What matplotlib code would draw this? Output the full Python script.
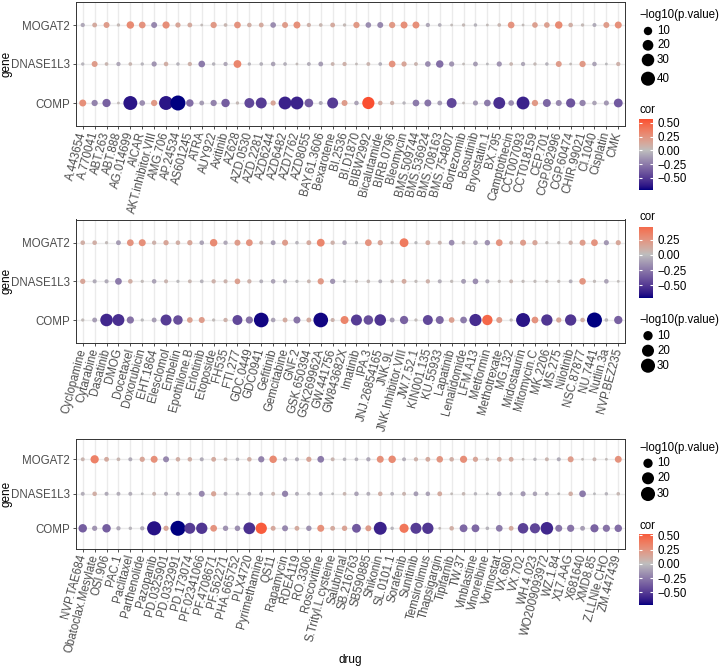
# drug_gene_dotplot.py

##########
# Import #
##########
import numpy as np
import matplotlib
matplotlib.use('Agg')
import matplotlib.pyplot as plt
from matplotlib.colors import ListedColormap, to_rgb

plt.rcParams['font.family'] = ['Liberation Sans', 'DejaVu Sans']

########
# Data #
########
genes = ['MOGAT2', 'DNASE1L3', 'COMP']

p1_drugs = ['A.443654', 'A.770041', 'ABT.263', 'ABT.888', 'AG.014699', 'AICAR', 'AKT.inhibitor.VIII', 'AMG.706',
            'AP.24534', 'AS601245', 'ATRA', 'AUY922', 'Axitinib', 'AZ628', 'AZD.0530', 'AZD.2281', 'AZD6244',
            'AZD6482', 'AZD7762', 'AZD8055', 'BAY.61.3606', 'Bexarotene', 'BI.2536', 'BI.D1870', 'BIBW2992',
            'Bicalutamide', 'BIRB.0796', 'Bleomycin', 'BMS.509744', 'BMS.536924', 'BMS.708163', 'BMS.754807',
            'Bortezomib', 'Bosutinib', 'Bryostatin.1', 'BX.795', 'Camptothecin', 'CCT007093', 'CCT018159',
            'CEP.701', 'CGP.082996', 'CGP.60474', 'CHIR.99021', 'CI.1040', 'Cisplatin', 'CMK']
p1_cor_mogat2 = [-0.08, 0.12, 0.2, 0.03, 0.3, 0.25, -0.2, 0.28, 0.15, 0.12, 0.02, 0.22, 0.05, 0.25, 0.1, 0.12, -0.18, 0.2, 0.27, 0.08, 0.05, 0.12, 0.03,
                 0.22, -0.18, -0.2, 0.22, 0.27, 0.27, -0.08, -0.05, 0.02, 0.03, -0.04, 0.02, 0.05, 0.25, 0.02, 0.18, 0.18, 0.3, 0.1, 0.03, -0.07, 0.2, 0.27]
p1_logp_mogat2 = [0.8, 1.4, 3.3, 0.25, 7.0, 4.9, 3.3, 6.2, 2.0, 1.4, 0.15, 3.9, 0.4, 4.9, 1.1, 1.4, 2.7, 3.3, 5.6, 0.8, 0.4, 1.4, 0.25,
                  3.9, 2.7, 3.3, 3.9, 5.6, 5.6, 0.8, 0.4, 0.15, 0.25, 0.3, 0.15, 0.4, 4.9, 0.15, 2.7, 2.7, 7.0, 1.1, 0.25, 0.6, 3.3, 5.6]
p1_cor_dnase1l3 = [-0.03, 0.2, 0.05, -0.08, 0.05, -0.03, -0.15, 0.1, -0.04, 0.08, -0.25, -0.04, -0.08, 0.32, -0.03, -0.05, -0.1, -0.05, 0.02, -0.06, -0.12, 0.06, 0.08,
                   0.02, 0.06, -0.05, 0.25, 0.15, 0.06, -0.18, -0.3, -0.15, 0.02, -0.12, -0.02, -0.15, 0.05, -0.08, 0.03, -0.04, 0.2, 0.02, 0.22, -0.1, -0.02, 0.08]
p1_logp_dnase1l3 = [0.25, 3.3, 0.4, 0.8, 0.4, 0.25, 2.0, 1.1, 0.3, 0.8, 4.9, 0.3, 0.8, 8.0, 0.25, 0.4, 1.1, 0.4, 0.15, 0.5, 1.4, 0.5, 0.8,
                    0.15, 0.5, 0.4, 4.9, 2.0, 0.5, 2.7, 7.0, 2.0, 0.15, 1.4, 0.15, 2.0, 0.4, 0.8, 0.25, 0.3, 3.3, 0.15, 3.9, 1.1, 0.15, 0.8]
p1_cor_comp = [0.27, -0.22, -0.35, 0.02, -0.65, -0.18, 0.22, -0.65, -0.72, -0.3, -0.12, -0.22, -0.36, 0.03, -0.45, -0.5, 0.15, -0.6, -0.6, -0.37, -0.07, -0.5, 0.2,
               -0.1, 0.57, 0.1, 0.08, -0.03, -0.25, -0.27, -0.12, -0.45, 0.02, -0.14, -0.25, -0.55, -0.18, -0.6, 0.22, -0.33, -0.2, -0.4, -0.22, -0.1, -0.14, -0.38]
p1_logp_comp = [5.6, 3.9, 9.5, 0.15, 39, 2.7, 3.9, 39, 47, 7.0, 1.4, 3.9, 10, 0.25, 16, 21, 2.0, 32, 32, 11, 0.6, 21, 3.3,
                1.1, 28, 1.1, 0.8, 0.25, 4.9, 5.6, 1.4, 16, 0.15, 1.8, 4.9, 26, 2.7, 32, 3.9, 8.5, 3.3, 13, 3.9, 1.1, 1.8, 11.5]

p2_drugs = ['Cyclopamine', 'Cytarabine', 'Dasatinib', 'DMOG', 'Docetaxel', 'Doxorubicin', 'EHT.1864', 'Elesclomol',
            'Embelin', 'Epothilone.B', 'Erlotinib', 'Etoposide', 'FH535', 'FTI.277', 'GDC.0449', 'GDC0941',
            'Gefitinib', 'Gemcitabine', 'GNF.2', 'GSK.650394', 'GSK269962A', 'GW.441756', 'GW843682X', 'Imatinib',
            'IPA.3', 'JNJ.26854165', 'JNK.9L', 'JNK.Inhibitor.VIII', 'JW.7.52.1', 'KIN001.135', 'KU.55933',
            'Lapatinib', 'Lenalidomide', 'LFM.A13', 'Metformin', 'Methotrexate', 'MG.132', 'Midostaurin',
            'Mitomycin.C', 'MK.2206', 'MS.275', 'Nilotinib', 'NSC.87877', 'NU.7441', 'Nutlin.3a', 'NVP.BEZ235']
p2_cor_mogat2 = [0.1, 0.1, 0.02, -0.12, 0.25, 0.27, 0.08, 0.15, 0.1, 0.15, -0.1, 0.3, -0.08, 0.2, 0.25, 0.06, -0.12, 0.2, -0.03, 0.12, 0.32, 0.08, -0.1,
                 -0.02, 0.25, 0.15, 0.02, 0.38, -0.02, 0.12, 0.06, -0.18, 0.04, -0.1, -0.16, 0.25, 0.06, 0.2, 0.15, 0.02, 0.02, 0.08, 0.2, 0.25, -0.14, 0.14]
p2_logp_mogat2 = [0.8, 0.8, 0.1, 1.05, 3.7, 4.2, 0.6, 1.5, 0.8, 1.5, 0.8, 5.2, 0.6, 2.5, 3.7, 0.4, 1.05, 2.5, 0.2, 1.05, 6.0, 0.6, 0.8,
                  0.1, 3.7, 1.5, 0.1, 8.6, 0.1, 1.05, 0.4, 2.0, 0.25, 0.8, 1.7, 3.7, 0.4, 2.5, 1.5, 0.1, 0.1, 0.6, 2.5, 3.7, 1.35, 1.35]
p2_cor_dnase1l3 = [0.15, -0.07, -0.07, -0.25, 0.1, 0.02, -0.1, 0.06, -0.02, 0.05, -0.04, 0.08, 0.07, 0.18, 0.08, -0.05, -0.1, -0.07, -0.02, 0.05, 0.22, -0.15, -0.02,
                   0.02, 0.03, -0.05, 0.04, 0.12, 0.02, 0.08, -0.06, 0.02, -0.12, -0.18, -0.07, 0.02, 0.05, 0.02, 0.02, 0.02, 0.02, -0.05, 0.24, 0.02, -0.1, 0.01]
p2_logp_dnase1l3 = [1.5, 0.45, 0.45, 3.7, 0.8, 0.1, 0.8, 0.4, 0.1, 0.3, 0.25, 0.6, 0.45, 2.0, 0.6, 0.3, 0.8, 0.45, 0.1, 0.3, 2.9, 1.5, 0.1,
                    0.1, 0.2, 0.3, 0.25, 1.05, 0.1, 0.6, 0.4, 0.1, 1.05, 2.0, 0.45, 0.1, 0.3, 0.1, 0.1, 0.1, 0.1, 0.3, 3.4, 0.1, 0.8, 0.05]
p2_cor_comp = [0.02, -0.12, -0.58, -0.55, -0.28, -0.02, -0.12, -0.5, -0.42, 0.18, 0.2, 0.02, 0.08, -0.45, -0.28, -0.7, -0.1, 0.12, -0.27, 0.12, -0.7, 0.07, 0.33,
               -0.5, -0.42, -0.53, -0.12, -0.35, 0.02, -0.45, -0.33, 0.18, -0.25, -0.56, 0.47, 0.2, 0.02, -0.65, 0.25, -0.52, 0.15, -0.52, 0.1, -0.72, -0.03, -0.35]
p2_logp_comp = [0.1, 1.05, 22.5, 19.5, 4.6, 0.1, 1.05, 15.8, 10.5, 2.0, 2.5, 0.1, 0.6, 12, 4.6, 33, 0.8, 1.05, 4.2, 1.05, 33, 0.45, 6.4,
                15.8, 10.5, 18, 1.05, 7.1, 0.1, 12, 6.4, 2.0, 3.7, 20.5, 13.5, 2.5, 0.1, 29, 3.7, 17, 1.5, 17, 0.8, 35, 0.2, 7.1]

p3_drugs = ['NVP.TAE684', 'Obatoclax.Mesylate', 'OSI.906', 'PAC.1', 'Paclitaxel', 'Parthenolide', 'Pazopanib',
            'PD.0325901', 'PD.0332991', 'PD.173074', 'PF.02341066', 'PF.4708671', 'PF.562271', 'PHA.665752',
            'PLX4720', 'Pyrimethamine', 'QS11', 'Rapamycin', 'RDEA119', 'RO.3306', 'Roscovitine',
            'S.Trityl.L.cysteine', 'Salubrinal', 'SB.216763', 'SB590885', 'Shikonin', 'SL.0101.1', 'Sorafenib',
            'Sunitinib', 'Temsirolimus', 'Thapsigargin', 'Tipifarnib', 'TW.37', 'Vinblastine', 'Vinorelbine',
            'Vorinostat', 'VX.680', 'VX.702', 'WH.4.023', 'WO2009093972', 'WZ.1.84', 'X17.AAG', 'X681640',
            'XMD8.85', 'Z.LLNle.CHO', 'ZM.447439']
p3_cor_mogat2 = [0.06, 0.35, 0.12, 0.05, -0.07, 0.15, 0.27, -0.2, 0.1, 0.1, -0.07, 0.12, 0.05, -0.04, 0.1, -0.22, 0.3, -0.08, -0.07, 0.15, -0.25, 0.06, -0.04,
                 -0.05, -0.08, 0.27, 0.3, -0.06, 0.08, 0.12, 0.24, 0.1, 0.28, 0.15, 0.04, 0.12, 0.12, 0.02, -0.03, 0.06, -0.07, 0.2, 0.02, 0.06, 0.02, 0.26]
p3_logp_mogat2 = [0.4, 7.1, 1.05, 0.3, 0.45, 1.5, 4.2, 2.5, 0.8, 0.8, 0.45, 1.05, 0.3, 0.25, 0.8, 2.9, 5.2, 0.6, 0.45, 1.5, 3.7, 0.4, 0.25,
                  0.3, 0.6, 4.2, 5.2, 0.4, 0.6, 1.05, 3.4, 0.8, 4.6, 1.5, 0.25, 1.05, 1.05, 0.1, 0.2, 0.4, 0.45, 2.5, 0.1, 0.4, 0.1, 4.0]
p3_cor_dnase1l3 = [-0.06, 0.1, -0.07, -0.06, -0.06, -0.02, 0.06, -0.07, -0.06, -0.03, -0.2, 0.15, -0.06, -0.03, -0.05, -0.07, 0.06, -0.22, -0.06, -0.03, -0.07, -0.02, 0.05,
                   -0.1, -0.06, 0.1, -0.05, 0.06, -0.12, -0.1, 0.12, 0.02, 0.04, -0.03, -0.02, -0.1, -0.03, -0.14, -0.1, -0.06, -0.02, 0.1, -0.25, -0.02, -0.03, 0.04]
p3_logp_dnase1l3 = [0.4, 0.8, 0.45, 0.4, 0.4, 0.1, 0.4, 0.45, 0.4, 0.2, 2.5, 1.5, 0.4, 0.2, 0.3, 0.45, 0.4, 2.9, 0.4, 0.2, 0.45, 0.1, 0.3,
                    0.8, 0.4, 0.8, 0.3, 0.4, 1.05, 0.8, 1.05, 0.1, 0.25, 0.2, 0.1, 0.8, 0.2, 1.35, 0.8, 0.4, 0.1, 0.8, 3.7, 0.1, 0.2, 0.25]
p3_cor_comp = [-0.36, -0.15, -0.36, -0.08, -0.03, -0.08, -0.66, 0.15, -0.72, -0.5, -0.52, 0.25, -0.16, -0.17, -0.54, 0.52, 0.13, -0.2, 0.12, -0.16, 0.27, 0.12, 0.16,
               -0.38, 0.2, -0.6, -0.03, 0.4, -0.5, -0.52, 0.02, 0.1, -0.32, -0.32, -0.04, -0.25, 0.12, -0.48, -0.46, -0.58, -0.27, -0.28, -0.12, -0.34, -0.28, -0.3]
p3_logp_comp = [7.6, 1.5, 7.6, 0.6, 0.2, 0.6, 30, 1.5, 35, 15.8, 17, 3.7, 1.7, 1.85, 19, 17, 1.2, 2.5, 1.05, 1.7, 4.2, 1.05, 1.7,
                8.6, 2.5, 24, 0.2, 9.5, 15.8, 17, 0.1, 0.8, 6, 6, 0.25, 3.7, 1.05, 14, 12.7, 22.5, 4.2, 4.6, 1.05, 6.8, 4.6, 5.2]

# legend breaks
p1_size_breaks = [10, 20, 30, 40]
p2_size_breaks = [10, 20, 30]
p3_size_breaks = [10, 20, 30]
p1_cor_breaks = [0.5, 0.25, 0.0, -0.25, -0.5]
p2_cor_breaks = [0.25, 0.0, -0.25, -0.5]
p3_cor_breaks = [0.5, 0.25, 0.0, -0.25, -0.5]

####################
# Define Functions #
####################
W, H, DPI = 719, 669, 100
M = np.array([[0.4124, 0.3576, 0.1805], [0.2126, 0.7152, 0.0722], [0.0193, 0.1192, 0.9505]])
WHITE = np.array([0.95047, 1.0, 1.08883])

def Box( l, t, r, b ):
	return [l / W, 1 - b / H, (r - l) / W, (b - t) / H]

def Rgb2Lab( rgb ):
	c = np.asarray( rgb, float )
	lin = np.where( c <= 0.04045, c / 12.92, ( ( c + 0.055 ) / 1.055 ) ** 2.4 )
	xyz = M @ lin / WHITE
	f = np.where( xyz > 0.008856, np.cbrt( xyz ), 7.787 * xyz + 16 / 116 )
	return np.array( [116 * f[1] - 16, 500 * ( f[0] - f[1] ), 200 * ( f[1] - f[2] )] )

def Lab2Rgb( lab ):
	fy = ( lab[0] + 16 ) / 116
	f = np.array( [fy + lab[1] / 500, fy, fy - lab[2] / 200] )
	xyz = np.where( f > 0.2069, f ** 3, ( f - 16 / 116 ) / 7.787 ) * WHITE
	lin = np.clip( np.linalg.inv( M ) @ xyz, 0, None )
	c = np.where( lin <= 0.0031308, 12.92 * lin, 1.055 * lin ** ( 1 / 2.4 ) - 0.055 )
	return np.clip( c, 0, 1 )

def Gradient2( low, mid, high, n = 511 ):
	labs = [Rgb2Lab( to_rgb( c ) ) for c in ( low, mid, high )]
	cols = []
	for t in np.linspace( 0, 1, n ):
		if t < 0.5:
			a, b, u = labs[0], labs[1], t / 0.5
		else:
			a, b, u = labs[1], labs[2], ( t - 0.5 ) / 0.5
		cols.append( Lab2Rgb( a + ( b - a ) * u ) )
	return ListedColormap( cols )

cmap = Gradient2( '#000080', '#BEBEBE', '#FF0000' )

def DotArea( p, lo, hi ):
	px = 2.8 + 12.2 * np.sqrt( ( np.asarray( p, float ) - lo ) / ( hi - lo ) )
	return ( px * 72 / DPI ) ** 2

def DrawPanel( ax, drugs, cors, logps ):
	x = np.arange( len( drugs ) )
	allc = np.concatenate( cors )
	allp = np.concatenate( logps )
	lo, hi = allp.min(), allp.max()
	m = np.abs( allc ).max()
	for gi in range( len( genes ) ):
		y = np.full( len( drugs ), len( genes ) - 1 - gi )
		c = np.asarray( cors[gi] )
		ax.scatter( x, y, s = DotArea( logps[gi], lo, hi ), c = cmap( 0.5 + c / ( 2 * m ) ), linewidths = 0, zorder = 3 )
	ax.set_xlim( -0.6, len( drugs ) - 0.4 )
	ax.set_ylim( -0.6, len( genes ) - 0.4 )
	ax.set_xticks( x )
	ax.set_xticklabels( drugs, rotation = 75, ha = 'right', va = 'center', rotation_mode = 'anchor', fontsize = 8.3, color = '#4D4D4D' )
	ax.set_yticks( range( len( genes ) ) )
	ax.set_yticklabels( genes[::-1], fontsize = 8.3, color = '#4D4D4D' )
	ax.tick_params( length = 2.5, width = 0.6, color = '#333333', pad = 1.5 )
	ax.set_axisbelow( True )
	ax.grid( color = '#EBEBEB', linewidth = 1.0 )
	for s in ax.spines.values():
		s.set_color( '#333333' )
		s.set_linewidth( 0.7 )
	ax.set_ylabel( 'gene', fontsize = 8.5 )
	ax.yaxis.label.set_va( 'center' )
	ax.yaxis.set_label_coords( -0.126, 0.5 )
	return lo, hi, allc.min(), allc.max(), m

def SizeLegend( ov, breaks, lo, hi, title_y, key_ys ):
	ov.text( 639, title_y, '\u2212log10(p.value)', fontsize = 8.3, va = 'center', ha = 'left' )
	ov.scatter( [648] * len( breaks ), key_ys, s = DotArea( breaks, lo, hi ), c = 'black', linewidths = 0, clip_on = False )
	for b, y in zip( breaks, key_ys ):
		ov.text( 657, y, str( b ), fontsize = 8.3, va = 'center', ha = 'left' )

def ColorLegend( fig, ov, breaks, vmin, vmax, m, title_y, top, bottom ):
	ov.text( 639, title_y, 'cor', fontsize = 8.3, va = 'center', ha = 'left' )
	cax = fig.add_axes( Box( 639, top, 653, bottom ) )
	v = np.linspace( vmin, vmax, 300 )
	img = cmap( 0.5 + v / ( 2 * m ) )[:, None, :]
	cax.imshow( img, origin = 'lower', extent = [0, 1, vmin, vmax], aspect = 'auto' )
	cax.hlines( breaks, 0, 0.2, color = 'white', linewidth = 0.8 )
	cax.hlines( breaks, 0.8, 1, color = 'white', linewidth = 0.8 )
	cax.set_xlim( 0, 1 )
	cax.set_ylim( vmin, vmax )
	cax.set_xticks( [] )
	cax.yaxis.tick_right()
	cax.set_yticks( breaks )
	cax.set_yticklabels( ['%.2f' % b if b >= 0 else '\u2212%.2f' % -b for b in breaks], fontsize = 8.3 )
	cax.tick_params( axis = 'y', length = 0, pad = 3 )
	for s in cax.spines.values():
		s.set_visible( False )

########
# Plot #
########
fig = plt.figure( figsize = ( W / DPI, H / DPI ), dpi = DPI )

ax1 = fig.add_axes( Box( 75.6, 1.6, 625.4, 126.4 ) )
ax2 = fig.add_axes( Box( 75.6, 219.5, 625.4, 343.2 ) )
ax3 = fig.add_axes( Box( 75.6, 438.6, 625.4, 549.0 ) )

r1 = DrawPanel( ax1, p1_drugs, [p1_cor_mogat2, p1_cor_dnase1l3, p1_cor_comp], [p1_logp_mogat2, p1_logp_dnase1l3, p1_logp_comp] )
r2 = DrawPanel( ax2, p2_drugs, [p2_cor_mogat2, p2_cor_dnase1l3, p2_cor_comp], [p2_logp_mogat2, p2_logp_dnase1l3, p2_logp_comp] )
r3 = DrawPanel( ax3, p3_drugs, [p3_cor_mogat2, p3_cor_dnase1l3, p3_cor_comp], [p3_logp_mogat2, p3_logp_dnase1l3, p3_logp_comp] )

ax3.set_xlabel( 'drug', fontsize = 8.5 )
ax3.xaxis.set_label_coords( 0.5, -( 660 - 549.0 ) / ( 549.0 - 438.6 ) )
ax3.xaxis.label.set_va( 'center' )

ov = fig.add_axes( [0, 0, 1, 1], zorder = -1 )
ov.set_xlim( 0, W )
ov.set_ylim( H, 0 )
ov.axis( 'off' )

SizeLegend( ov, p1_size_breaks, r1[0], r1[1], 15, [31, 45.3, 60, 78.7] )
ColorLegend( fig, ov, p1_cor_breaks, r1[2], r1[3], r1[4], 110, 119, 190 )

ColorLegend( fig, ov, p2_cor_breaks, r2[2], r2[3], r2[4], 217, 226.7, 298.3 )
SizeLegend( ov, p2_size_breaks, r2[0], r2[1], 320, [335.7, 350.7, 365.7] )

SizeLegend( ov, p3_size_breaks, r3[0], r3[1], 448, [463.3, 478.3, 494] )
ColorLegend( fig, ov, p3_cor_breaks, r3[2], r3[3], r3[4], 526, 534.3, 605 )

fig.savefig( 'out.png', dpi = DPI )
